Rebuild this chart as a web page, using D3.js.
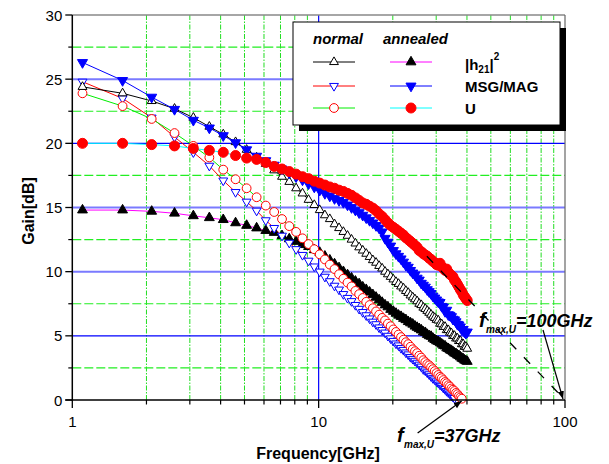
<!DOCTYPE html>
<html><head><meta charset="utf-8">
<script src="https://cdn.jsdelivr.net/npm/d3@7"></script>
<style>body{margin:0;background:#fff;} svg{display:block;font-family:"Liberation Sans",Arial,sans-serif;}</style>
</head><body><svg id="c" width="609" height="464"></svg>
<script>
// ---------- data ----------
const freq = [1.1,1.6,2.1,2.6,3.1,3.6,4.1,4.6,5.1,5.6,6.1,6.6,7.1,7.6,8.1,8.6,9.1,9.6,10.1,
  10.6,11.1,11.6,12.1,12.6,13.1,13.6,14.1,14.6,15.1,15.6,16.1,16.6,17.1,17.6,18.1,18.6,19.1,19.6,20.1,
  20.6,21.1,21.6,22.1,22.6,23.1,23.6,24.1,24.6,25.1,25.6,26.1,26.6,27.1,27.6,28.1,28.6,29.1,29.6,30.1,
  30.6,31.1,31.6,32.1,32.6,33.1,33.6,34.1,34.6,35.1,35.6,36.1,36.6,37.1,37.6,38.1,38.6,39.1,39.6,40.1];

const normalH21 = [24.4,23.9,23.3,22.7,22.0,21.3,20.7,20.1,19.5,18.9,18.4,17.9,17.4,17.0,16.5,16.1,15.6,15.2,14.8,
  14.4,14.1,13.7,13.4,13.1,12.8,12.5,12.2,11.9,11.65,11.4,11.15,10.9,10.7,10.45,10.25,10.0,9.8,9.6,9.4,
  9.2,9.05,8.85,8.7,8.5,8.35,8.15,8.0,7.85,7.7,7.5,7.4,7.2,7.1,6.95,6.8,6.65,6.5,6.4,6.25,
  6.2,5.95,5.9,5.7,5.7,5.45,5.45,5.25,5.2,5.0,5.0,4.8,4.8,4.6,4.6,4.35,4.35,4.15,4.15,4.0];

const normalMSG = [24.8,23.5,22.0,20.5,19.3,18.25,17.1,16.2,15.45,14.75,14.0,13.4,12.8,12.25,11.75,11.3,10.85,10.4,10.0,
  9.6,9.25,8.9,8.6,8.25,7.95,7.7,7.4,7.1,6.85,6.6,6.35,6.1,5.9,5.65,5.45,5.25,5.0,4.8,4.6,
  4.4,4.25,4.05,3.9,3.7,3.55,3.35,3.2,3.05,2.9,2.75,2.6,2.4,2.3,2.15,2.0,1.85,1.7,1.6,1.45,
  1.35,1.2,1.1,0.95,0.85,0.7,0.6,0.5,0.35,0.25,0.15];

const normalU = [23.9,22.9,21.9,20.8,19.8,18.9,17.95,17.2,16.5,15.8,15.15,14.65,14.1,13.55,13.1,12.6,12.15,11.75,11.35,
  10.95,10.55,10.2,9.8,9.45,9.15,8.85,8.5,8.25,7.95,7.65,7.4,7.15,6.9,6.65,6.4,6.2,5.95,5.75,5.5,
  5.3,5.1,4.9,4.7,4.5,4.35,4.15,3.95,3.8,3.65,3.45,3.3,3.1,2.95,2.8,2.7,2.55,2.4,2.25,2.1,
  1.95,1.8,1.7,1.55,1.4,1.3,1.15,1.05,0.9,0.8,0.7,0.55,0.45,0.3,0.2,0.1];

const annealedH21 = [14.8,14.8,14.7,14.55,14.35,14.2,14.05,13.8,13.6,13.4,13.2,13.05,12.8,12.55,12.35,12.1,11.95,11.7,11.5,
  11.2,10.9,10.6,10.3,10.0,9.75,9.5,9.25,9.05,8.8,8.6,8.4,8.2,8.0,7.8,7.6,7.4,7.25,7.05,6.9,
  6.75,6.6,6.5,6.35,6.25,6.1,6.0,5.9,5.75,5.65,5.55,5.45,5.3,5.25,5.1,5.0,4.95,4.8,4.7,4.6,
  4.55,4.45,4.35,4.25,4.2,4.05,4.0,3.9,3.85,3.75,3.65,3.6,3.5,3.45,3.35,3.25,3.2,3.1,3.05,3.0];

const annealedMSG = [26.3,24.9,23.6,22.65,21.8,21.2,20.6,20.05,19.5,19.0,18.65,18.3,18.0,17.7,17.4,17.15,16.85,16.6,16.35,
  16.1,15.9,15.7,15.55,15.4,15.2,15.0,14.8,14.6,14.4,14.2,14.0,13.8,13.6,13.4,13.1,12.6,12.3,12.0,11.65,
  11.4,11.2,11.0,10.75,10.5,10.35,10.1,9.9,9.75,9.5,9.35,9.1,8.95,8.8,8.6,8.45,8.3,8.1,7.95,7.8,
  7.65,7.6,7.3,7.25,6.9,7.0,6.65,6.6,6.5,6.3,6.25,6.1,5.9,5.85,5.7,5.5,5.5,5.3,5.2,5.3];

const annealedU = [20.0,20.0,19.9,19.8,19.6,19.45,19.3,19.05,18.85,18.75,18.5,18.2,18.0,17.8,17.6,17.4,17.25,17.05,16.9,
  16.75,16.6,16.5,16.35,16.25,16.1,15.95,15.75,15.55,15.35,15.25,15.1,14.95,14.75,14.5,14.3,14.05,13.8,13.6,13.45,
  13.3,13.15,13.0,12.85,12.65,12.5,12.35,12.2,12.05,11.9,11.65,11.55,11.4,11.3,11.2,11.05,10.95,10.8,10.7,10.55,
  10.5,10.65,10.4,10.25,10.1,10.2,9.95,9.8,9.7,9.6,9.35,9.2,9.0,8.8,8.6,8.45,8.2,8.05,7.9,7.75];

const yTicks = [0,5,10,15,20,25,30];
const yMinor = [2.5,7.5,12.5,17.5,22.5,27.5];
const xTicks = [1,10,100];
const xMinor = [2,3,4,5,6,7,8,9,20,30,40,50,60,70,80,90];
const extrapolation = [[27.5,11.2],[100,0]];
const fmaxNormal = 37, fmaxAnnealed = 100;
const legendHeads = ["normal","annealed"];
const legendRows = ["h21","MSG/MAG","U"];

// ---------- setup ----------
const svg = d3.select("#c");
const X0=72.3, X1=565, Y0=400, Y1=15;
const x = d3.scaleLog().domain([1,100]).range([X0,X1]);
const y = d3.scaleLinear().domain([0,30]).range([Y0,Y1]);

// grid
const g = svg.append("g");
g.selectAll(".vm").data(xMinor).enter().append("line")
  .attr("x1",d=>x(d)).attr("x2",d=>x(d)).attr("y1",Y1).attr("y2",Y0)
  .attr("stroke","#22dd22").attr("stroke-width",1).attr("stroke-dasharray","5,1.5,1.5,1.5");
g.selectAll(".hm").data(yMinor).enter().append("line")
  .attr("x1",X0).attr("x2",X1).attr("y1",d=>y(d)).attr("y2",d=>y(d))
  .attr("stroke","#22ee22").attr("stroke-width",1.2).attr("stroke-dasharray","9,3");
g.selectAll(".hM").data(yTicks.filter(d=>d>0&&d<30)).enter().append("line")
  .attr("x1",X0).attr("x2",X1).attr("y1",d=>y(d)).attr("y2",d=>y(d))
  .attr("stroke",d=>(d===20||d===5)?"#0000ff":"#7a7aff")
  .attr("stroke-width",d=>(d===20||d===5)?1.2:2);
g.append("line").attr("x1",x(10)).attr("x2",x(10)).attr("y1",Y1).attr("y2",Y0)
  .attr("stroke","#0000ff").attr("stroke-width",1.2);

// frame top/right
svg.append("line").attr("x1",X0).attr("x2",X1).attr("y1",Y1).attr("y2",Y1).attr("stroke","#888").attr("stroke-width",1.5);
svg.append("line").attr("x1",X1).attr("x2",X1).attr("y1",Y1).attr("y2",Y0).attr("stroke","#666").attr("stroke-width",1.2);

// ---------- series ----------
const pts = arr => arr.map((v,i)=>[freq[i],v]);
const lineGen = d3.line().x(d=>x(d[0])).y(d=>y(d[1]));
const tri = d3.symbol().type(d3.symbolTriangle);

const series = [
  {data:annealedH21, line:"#ff00ff", shape:"up", fill:"#000", stroke:"#000", size:42},
  {data:normalMSG,  line:"#ff0000", shape:"down", fill:"#fff", stroke:"#0000ff", size:34},
  {data:normalU,    line:"#00ee00", shape:"circle", fill:"#fff", stroke:"#ff0000", r:4.4},
  {data:normalH21,  line:"#000000", shape:"up", fill:"#fff", stroke:"#000", size:34},
  {data:annealedMSG,line:"#0000ff", shape:"down", fill:"#0000ff", stroke:"#0000ff", size:44},
  {data:annealedU,  line:"#00ffff", shape:"circle", fill:"#ff0000", stroke:"#ff0000", r:5}
];

function drawMarker(sel, s){
  if(s.shape==="circle"){
    sel.append("circle").attr("r",s.r).attr("fill",s.fill).attr("stroke",s.stroke).attr("stroke-width",1);
  } else {
    sel.append("path").attr("d",tri.size(s.size)())
      .attr("transform",s.shape==="down"?"rotate(180)":null)
      .attr("fill",s.fill).attr("stroke",s.stroke).attr("stroke-width",1);
  }
}

series.forEach(s=>{
  const p = pts(s.data);
  svg.append("path").datum(p).attr("d",lineGen).attr("fill","none").attr("stroke",s.line).attr("stroke-width",1);
});
series.forEach(s=>{
  const p = pts(s.data);
  const mg = svg.append("g");
  mg.selectAll("g").data(p).enter().append("g")
    .attr("transform",d=>`translate(${x(d[0])},${y(d[1])})`)
    .each(function(){ drawMarker(d3.select(this), s); });
});

// extrapolation dashed line
svg.append("path").datum(extrapolation).attr("d",lineGen).attr("fill","none")
  .attr("stroke","#000").attr("stroke-width",1.3).attr("stroke-dasharray","9,11");

// ---------- axes ----------
const ax = svg.append("g");
ax.append("line").attr("x1",X0).attr("x2",X0).attr("y1",Y1).attr("y2",Y0+1).attr("stroke","#000").attr("stroke-width",1.5);
ax.append("line").attr("x1",X0-7).attr("x2",X1).attr("y1",Y0).attr("y2",Y0).attr("stroke","#000").attr("stroke-width",1.5);
ax.selectAll(".yt").data(yTicks).enter().append("line")
  .attr("x1",X0-7).attr("x2",X0).attr("y1",d=>y(d)).attr("y2",d=>y(d)).attr("stroke","#000").attr("stroke-width",1.3);
ax.selectAll(".ym").data(yMinor).enter().append("line")
  .attr("x1",X0-4).attr("x2",X0).attr("y1",d=>y(d)).attr("y2",d=>y(d)).attr("stroke","#000").attr("stroke-width",1.2);
ax.selectAll(".yl").data(yTicks).enter().append("text")
  .attr("x",X0-10).attr("y",d=>y(d)+5.5).attr("text-anchor","end").attr("font-size",15).text(d=>d);
ax.selectAll(".xt").data(xTicks).enter().append("line")
  .attr("x1",d=>x(d)).attr("x2",d=>x(d)).attr("y1",Y0).attr("y2",Y0+8).attr("stroke","#000").attr("stroke-width",1.3);
ax.selectAll(".xm").data(xMinor).enter().append("line")
  .attr("x1",d=>x(d)).attr("x2",d=>x(d)).attr("y1",Y0).attr("y2",Y0+4.5).attr("stroke","#000").attr("stroke-width",1.2);
ax.selectAll(".xl").data(xTicks).enter().append("text")
  .attr("x",d=>x(d)).attr("y",Y0+27).attr("text-anchor","middle").attr("font-size",15).text(d=>d);

svg.append("text").attr("transform","translate(34,211) rotate(-90)").attr("text-anchor","middle")
  .attr("font-size",16).attr("font-weight","bold").text("Gain[dB]");
svg.append("text").attr("x",318).attr("y",459).attr("text-anchor","middle")
  .attr("font-size",16).attr("font-weight","bold").text("Frequency[GHz]");

// ---------- legend ----------
const L = {x:293,y:22,w:267,h:103};
svg.append("rect").attr("x",L.x+6).attr("y",L.y+6).attr("width",L.w).attr("height",L.h).attr("fill","#000");
svg.append("rect").attr("x",L.x).attr("y",L.y).attr("width",L.w).attr("height",L.h).attr("fill","#fff").attr("stroke","#000").attr("stroke-width",1);
const heads = [313,383];
legendHeads.forEach((t,i)=>svg.append("text").attr("x",heads[i]).attr("y",44)
  .attr("font-size",15).attr("font-weight","bold").attr("font-style","italic").text(t));
const rowY = [62,86,108];
const colX = [[313,355],[390,432]];
const legendOrder = [[3,0],[1,4],[2,5]];
legendOrder.forEach((pair,r)=>{
  pair.forEach((si,c)=>{
    const s = series[si];
    svg.append("line").attr("x1",colX[c][0]).attr("x2",colX[c][1]).attr("y1",rowY[r]).attr("y2",rowY[r])
      .attr("stroke",s.line).attr("stroke-width",1);
    const mg = svg.append("g").attr("transform",`translate(${(colX[c][0]+colX[c][1])/2},${rowY[r]})`);
    drawMarker(mg, s);
  });
});
const lt = svg.append("text").attr("x",465).attr("y",70).attr("font-size",15).attr("font-weight","bold");
lt.append("tspan").text("|h");
lt.append("tspan").attr("font-size",10).attr("dy",3).text(legendRows[0].slice(1));
lt.append("tspan").attr("dy",-3).text("|");
lt.append("tspan").attr("font-size",10).attr("dy",-10).text("2");
svg.append("text").attr("x",465).attr("y",92).attr("font-size",15).attr("font-weight","bold").text(legendRows[1]);
svg.append("text").attr("x",465).attr("y",114).attr("font-size",15).attr("font-weight","bold").text(legendRows[2]);

// ---------- annotations ----------
const defs = svg.append("defs");
defs.append("marker").attr("id","ah").attr("viewBox","0 0 10 10").attr("refX",10).attr("refY",5)
  .attr("markerWidth",8).attr("markerHeight",8).attr("markerUnits","userSpaceOnUse").attr("orient","auto")
  .append("path").attr("d","M0,1 L10,5 L0,9 z").attr("fill","#000");

function annot(tx, ty, val){
  const t = svg.append("g").attr("font-weight","bold").attr("font-style","italic");
  t.append("text").attr("x",tx).attr("y",ty).attr("font-size",20).text("f");
  t.append("text").attr("x",tx+7).attr("y",ty+6).attr("font-size",10).text("max,U");
  t.append("text").attr("x",tx+37).attr("y",ty).attr("font-size",18).text("="+val+"GHz");
}
annot(397, 442, fmaxNormal);
annot(479, 327, fmaxAnnealed);
svg.append("line").attr("x1",x(fmaxNormal)-41).attr("y1",y(0)+33).attr("x2",x(fmaxNormal)+3).attr("y2",y(0)+1)
  .attr("stroke","#000").attr("stroke-width",1.2).attr("marker-end","url(#ah)");
svg.append("line").attr("x1",x(fmaxAnnealed)-22).attr("y1",y(0)-70).attr("x2",x(fmaxAnnealed)-2).attr("y2",y(0)-1)
  .attr("stroke","#000").attr("stroke-width",1.2).attr("marker-end","url(#ah)");
</script></body></html>
